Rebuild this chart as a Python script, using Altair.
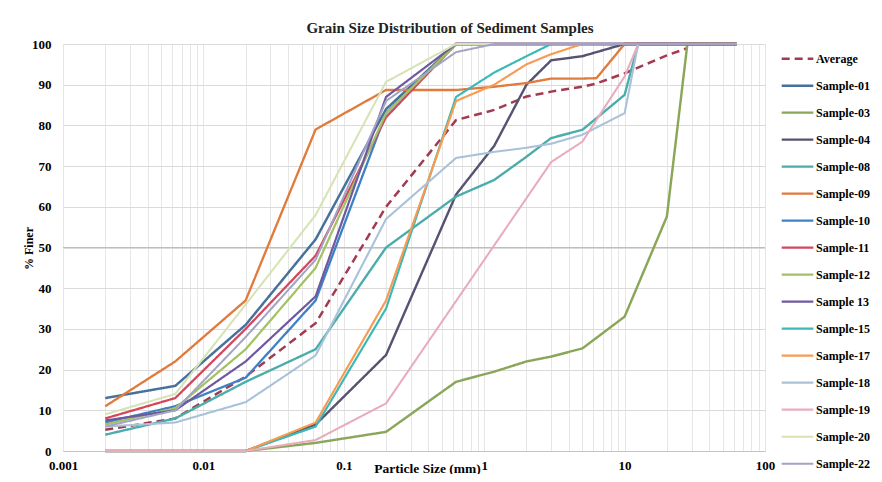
import altair as alt
import pandas as pd

# Sieve / particle sizes (mm)
sieves = [0.002, 0.0063, 0.02, 0.063, 0.2, 0.63, 1.18, 2, 3, 5, 6.3, 10, 12.5, 20, 28, 63]
N = None

average = [5.2, 8, 18.3, 31.4, 60, 81.3, 83.8, 87.1, 88.3, 89.5, 90.3, 92.8, N, 97.2, 99, N]
s01 = [13, 16, 31, 52, 84, 100, N, N, N, N, N, N, N, N, N, 100]
s03 = [0, 0, 0, 2, 4.7, 17, 19.5, 22, 23.2, 25.2, N, 33, N, 57.6, 100, 100]
s04 = [0, 0, 0, 6.5, 23.6, 63, 75, 90, 96, 97, N, 100, N, N, N, 100]
s08 = [4, 8, 17, 25, 50, 62.5, 66.6, 72.3, 76.9, 78.9, N, 87.5, 100, N, N, 100]
s09 = [11, 22, 37, 79, 88.7, 88.7, 89.5, 90.4, 91.5, 91.5, 91.6, 100, N, N, N, 100]
s10 = [7, 11, 18, 37, 83, 100, N, N, N, N, N, N, N, N, N, 100]
s11 = [8, 13, 30, 48, 82, 100, N, N, N, N, N, N, N, N, N, 100]
s12 = [6.5, 10.5, 25, 45, 83, 100, N, N, N, N, N, N, N, N, N, 100]
s13 = [7.5, 10, 22, 38, 87, 100, N, N, N, N, N, N, N, N, N, 100]
s15 = [0, 0, 0, 6, 35, 87, 93, 97, 100, N, N, N, N, N, N, 100]
s17 = [0, 0, 0, 7, 37, 86, 90, 95, 97.5, 100, N, N, N, N, N, 100]
s18 = [6, 7, 12, 23.5, 57, 72, 73.5, 74.5, 75.5, 77.7, N, 83, 100, N, N, 100]
s19 = [0, 0, 0, 2.7, 11.7, N, N, N, 71, 76, N, 92, 100, N, N, 100]
s20 = [9, 14, 36, 58, 90.7, 100, N, N, N, N, N, N, N, N, N, 100]
s22 = [6, 10, 28, 47, 86, 98, 100, N, N, N, N, N, N, N, N, 100]

names = ["Average", "Sample-01", "Sample-03", "Sample-04", "Sample-08", "Sample-09",
         "Sample-10", "Sample-11", "Sample-12", "Sample 13", "Sample-15", "Sample-17",
         "Sample-18", "Sample-19", "Sample-20", "Sample-22"]
values = [average, s01, s03, s04, s08, s09, s10, s11, s12, s13, s15, s17, s18, s19, s20, s22]
colors = ["#a23b52", "#46719c", "#8aa658", "#545372", "#4bacac", "#e07b3c",
          "#3e82c6", "#d4465e", "#a3c264", "#6e59a0", "#3ab9b6", "#f79a52",
          "#a9c2da", "#e8adbd", "#d5e3b5", "#a3a3c4"]
dashes = [[8, 5]] + [[1, 0]] * 15
widths = [2.5, 2, 2, 2, 2, 2, 2, 2, 2, 2, 2, 2, 1.6, 1.6, 1.6, 1.6]

ref_lines = [50]

rows = []
for name, vals in zip(names, values):
    for x, v in zip(sieves, vals):
        if v is not None:
            rows.append({"series": name, "size": x, "finer": v})
df = pd.DataFrame(rows)

x_vals = [round(k * 10 ** e, 6) for e in range(-3, 2) for k in range(1, 10)] + [100]
decade_labels = "['0.001','0.01','0.1','1','10','100']"

serif = "Liberation Serif"

legend = alt.Legend(
    title=None, orient="none", legendX=717, legendY=1.5,
    symbolType="stroke", symbolSize=1000, symbolStrokeWidth=2,
    clipHeight=26.3, rowPadding=0, labelOffset=1, padding=0,
    labelFont=serif, labelFontWeight="bold", labelFontSize=12, labelColor="black",
)

lines = alt.Chart(df).mark_line().encode(
    x=alt.X("size:Q",
            scale=alt.Scale(type="log", domain=[0.001, 100], nice=False),
            axis=alt.Axis(values=x_vals, format=".3~f",
                          labelExpr="indexof(" + decade_labels + ", datum.label) >= 0 ? datum.label : ''",
                          title="Particle Size (mm)", grid=True, gridColor="#e6e6e6",
                          ticks=False, domain=True, domainColor="#c4c4c4",
                          labelFlush=False, labelOverlap=False,
                          labelPadding=8, labelFont=serif, labelFontWeight="bold",
                          labelFontSize=13, labelColor="black",
                          titleFont=serif, titleFontWeight="bold", titleFontSize=13.5,
                          titleColor="black", titleX=364, titleY=17,
                          titleBaseline="middle", titleAnchor="middle")),
    y=alt.Y("finer:Q",
            scale=alt.Scale(domain=[0, 100], nice=False),
            axis=alt.Axis(values=list(range(0, 101, 10)), title="% Finer",
                          grid=True, gridColor="#dadada", ticks=False, domain=False,
                          labelPadding=12, labelFont=serif, labelFontWeight="bold",
                          labelFontSize=13, labelColor="black",
                          titleFont=serif, titleFontWeight="bold", titleFontSize=12,
                          titleColor="black", titleX=-35, titleY=204, titleAngle=270,
                          titleBaseline="middle", titleAnchor="middle")),
    color=alt.Color("series:N", scale=alt.Scale(domain=names, range=colors), legend=legend),
    strokeDash=alt.StrokeDash("series:N", scale=alt.Scale(domain=names, range=dashes), legend=legend),
    strokeWidth=alt.StrokeWidth("series:N", scale=alt.Scale(domain=names, range=widths), legend=None),
    order=alt.Order("size:Q"),
)

ref = alt.Chart(pd.DataFrame({"v": ref_lines})).mark_rule(color="#bdbdbd", strokeWidth=1.2).encode(
    y="v:Q"
)

chart = alt.layer(ref, lines).properties(
    width=702, height=407,
    title=alt.TitleParams("Grain Size Distribution of Sediment Samples", font=serif,
                          fontSize=15, fontWeight="bold", color="#222222",
                          anchor="middle", dx=36, offset=2),
    autosize=alt.AutoSizeParams(type="none"),
    padding={"left": 55, "top": 36, "right": 109, "bottom": 23},
).configure_view(stroke=None).configure(background="white")

chart.save("out.html", embed_options={"renderer": "svg", "actions": False})
